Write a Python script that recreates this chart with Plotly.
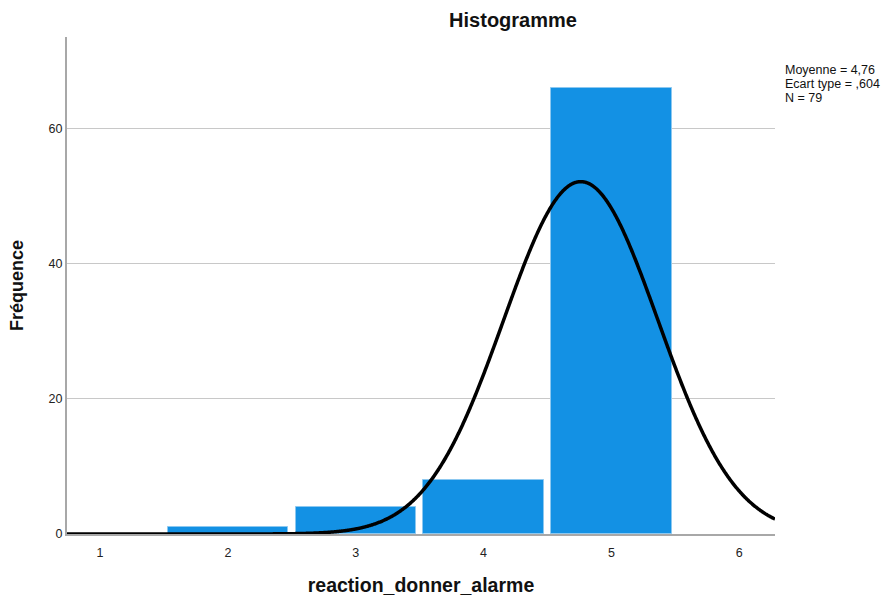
import numpy as np
import plotly.graph_objects as go

# Data
categories = [2, 3, 4, 5]
frequencies = [1, 4, 8, 66]
mean_val = 4.76
std_val = 0.604
n_val = 79
x_tick_vals = [1, 2, 3, 4, 5, 6]
y_tick_vals = [0, 20, 40, 60]
stats_lines = ["Moyenne = 4,76", "Ecart type = ,604", "N = 79"]

x_min, x_max = 0.742, 6.279
xs = np.linspace(x_min, x_max, 1200)
curve = n_val * 1.0 / (std_val * np.sqrt(2 * np.pi)) * np.exp(-0.5 * ((xs - mean_val) / std_val) ** 2)

fig = go.Figure()
fig.add_trace(go.Bar(
    x=categories, y=frequencies, width=0.94,
    marker=dict(color="#1391E4", line=dict(color="#8CC8F0", width=1)),
    showlegend=False, hoverinfo="skip"))
fig.add_trace(go.Scatter(
    x=xs, y=curve, mode="lines",
    line=dict(color="black", width=3.5, simplify=False),
    showlegend=False, hoverinfo="skip", cliponaxis=False))

font_family = "Liberation Sans, Arial, sans-serif"
L, R, T, B = 67, 112, 37, 62
W, H = 887, 596
pw, ph = W - L - R, H - T - B

annotations = []
for i, line in enumerate(stats_lines):
    ypix = 70 + i * 14
    annotations.append(dict(text=line, x=(783 - L) / pw, y=(H - B - ypix) / ph,
                            xref="paper", yref="paper", xanchor="left", yanchor="middle",
                            align="left", showarrow=False,
                            font=dict(size=12.5, color="#111", family=font_family)))

fig.update_layout(
    width=W, height=H,
    margin=dict(l=L, r=R, t=T, b=B),
    paper_bgcolor="white", plot_bgcolor="white",
    font=dict(family=font_family, size=12, color="#222"),
    bargap=0,
    title=dict(text="<b>Histogramme</b>", x=513 / W, xanchor="center",
               y=1 - 20 / H, yanchor="middle",
               font=dict(size=20, color="#111", family=font_family)),
    xaxis=dict(range=[x_min, x_max], tickvals=x_tick_vals, showgrid=False, automargin=False,
               showline=True, linecolor="#A8A8A8", linewidth=2, zeroline=False,
               ticks="", ticklen=0, ticklabelstandoff=6, tickfont=dict(size=12.5, color="#222"),
               title=dict(text="<b>reaction_donner_alarme</b>", standoff=22,
                          font=dict(size=19.5, color="#111"))),
    yaxis=dict(range=[0, 73.6], tickvals=y_tick_vals, showgrid=True, automargin=False,
               gridcolor="#C8C8C8", gridwidth=1,
               showline=True, linecolor="#A8A8A8", linewidth=2, zeroline=False,
               ticks="", tickfont=dict(size=12.5, color="#222"),
               title=dict(text="<b>Fréquence</b>", standoff=20,
                          font=dict(size=18, color="#111"))),
    annotations=annotations,
)

fig.write_html("out.html")
